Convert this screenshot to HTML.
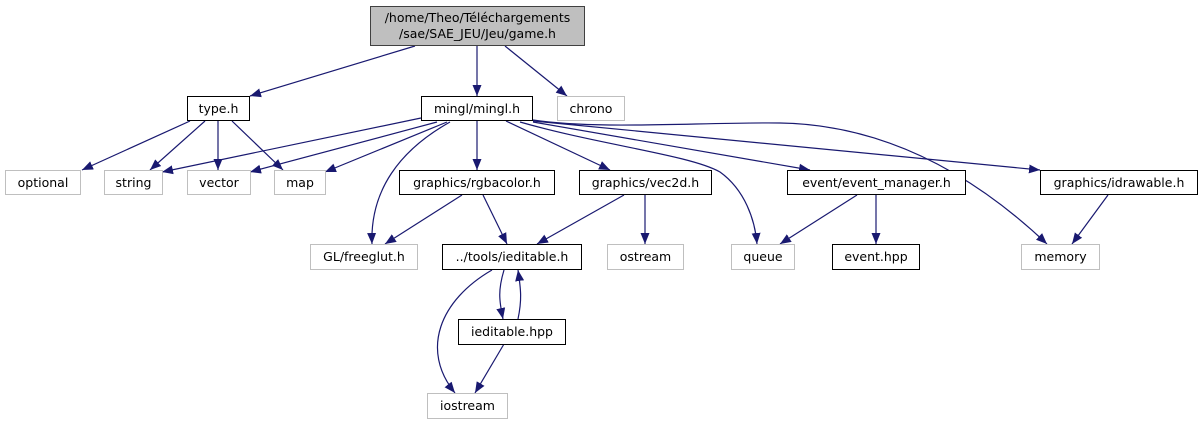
<!DOCTYPE html>
<html><head><meta charset="utf-8"><style>
html,body{margin:0;padding:0;background:#fff;width:1203px;height:425px;overflow:hidden}
text{font-family:"DejaVu Sans","Liberation Sans",sans-serif;font-size:12.5px;fill:#000}
</style></head><body>
<svg width="1203" height="425" viewBox="0 0 1203 425" xmlns="http://www.w3.org/2000/svg">
<defs><marker id="a" markerUnits="userSpaceOnUse" markerWidth="12" markerHeight="10" refX="11" refY="5" orient="auto"><path d="M0,0.5 L11,5 L0,9.5 Z" fill="#191970"/></marker></defs>
<g fill="none" stroke="#191970" stroke-width="1.2" marker-end="url(#a)">
<path d="M415,46 L250,96"/>
<path d="M477,46 L477,96"/>
<path d="M505,46 L567,96"/>
<path d="M190,121 L82,170"/>
<path d="M205,121 L150,170"/>
<path d="M218,121 L218,170"/>
<path d="M232,121 L283,170"/>
<path d="M421,118 L162,172"/>
<path d="M437,122 L250,172"/>
<path d="M447,122 L325,172"/>
<path d="M450,122 C400,150 370,190 372,244"/>
<path d="M477,121 L477,170"/>
<path d="M506,121 L610,170"/>
<path d="M520,122 C600,145 690,155 720,172 C745,190 755,220 757,244"/>
<path d="M533,122 L810,170"/>
<path d="M533,121 L1040,170"/>
<path d="M533,120 C600,130 700,122 780,123 C900,125 990,190 1047,244"/>
<path d="M462,195 L385,244"/>
<path d="M483,195 L507,244"/>
<path d="M624,195 L537,244"/>
<path d="M645,195 L645,244"/>
<path d="M857,195 L780,244"/>
<path d="M876,195 L876,244"/>
<path d="M1108,195 L1072,244"/>
<path d="M492,270 C440,300 420,350 455,393"/>
<path d="M504,270 C498,290 499,300 503,319"/>
<path d="M518,319 C522,300 521,290 518,270"/>
<path d="M504,344 L475,393"/>
</g>
<g stroke-width="1">
<rect x="370.5" y="6.5" width="214" height="39" fill="#bfbfbf" stroke="#404040"/>
<g fill="#fff" stroke="#000">
<rect x="187.5" y="96.5" width="62" height="24"/>
<rect x="421.5" y="96.5" width="111" height="24"/>
<rect x="399.5" y="170.5" width="155" height="24"/>
<rect x="579.5" y="170.5" width="132" height="24"/>
<rect x="787.5" y="170.5" width="178" height="24"/>
<rect x="1040.5" y="170.5" width="157" height="24"/>
<rect x="442.5" y="244.5" width="139" height="25"/>
<rect x="832.5" y="244.5" width="87" height="25"/>
<rect x="458.5" y="319.5" width="107" height="25"/>
</g>
<g fill="#fff" stroke="#bfbfbf">
<rect x="557.5" y="96.5" width="67" height="24"/>
<rect x="5.5" y="170.5" width="75" height="24"/>
<rect x="104.5" y="170.5" width="58" height="24"/>
<rect x="187.5" y="170.5" width="63" height="24"/>
<rect x="274.5" y="170.5" width="51" height="24"/>
<rect x="310.5" y="244.5" width="107" height="25"/>
<rect x="607.5" y="244.5" width="76" height="25"/>
<rect x="731.5" y="244.5" width="63" height="25"/>
<rect x="1021.5" y="244.5" width="78" height="25"/>
<rect x="427.5" y="393.5" width="80" height="25"/>
</g>
</g>
<g text-anchor="middle">
<text x="477.5" y="22">/home/Theo/Téléchargements</text>
<text x="477.5" y="38">/sae/SAE_JEU/Jeu/game.h</text>
<text x="218.5" y="113">type.h</text>
<text x="477" y="113">mingl/mingl.h</text>
<text x="591" y="113">chrono</text>
<text x="43" y="187">optional</text>
<text x="133.5" y="187">string</text>
<text x="219" y="187">vector</text>
<text x="300" y="187">map</text>
<text x="477" y="187">graphics/rgbacolor.h</text>
<text x="645.5" y="187">graphics/vec2d.h</text>
<text x="876.5" y="187">event/event_manager.h</text>
<text x="1119" y="187">graphics/idrawable.h</text>
<text x="364" y="261">GL/freeglut.h</text>
<text x="512" y="261">../tools/ieditable.h</text>
<text x="645.5" y="261">ostream</text>
<text x="763" y="261">queue</text>
<text x="876" y="261">event.hpp</text>
<text x="1060.5" y="261">memory</text>
<text x="512" y="336">ieditable.hpp</text>
<text x="467.5" y="410">iostream</text>
</g>
</svg>
</body></html>
